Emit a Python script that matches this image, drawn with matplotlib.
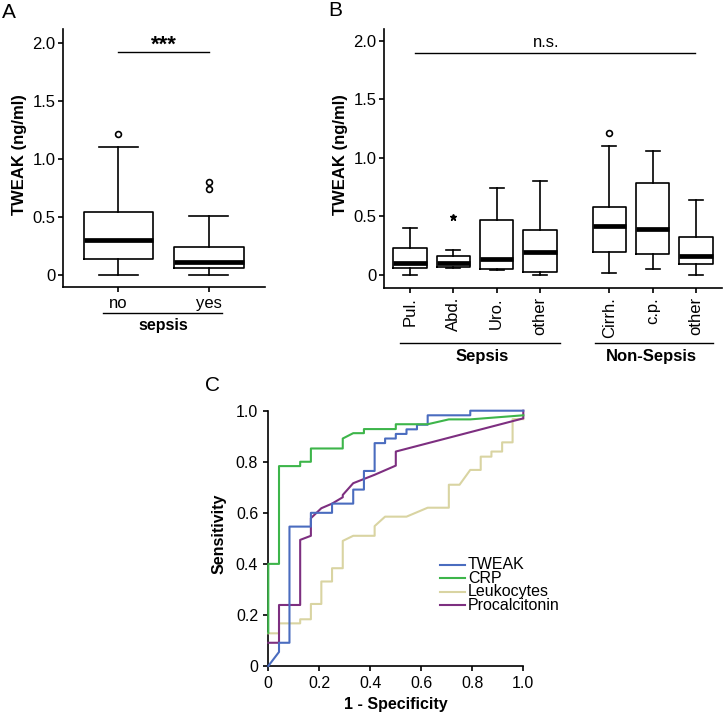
import matplotlib
matplotlib.use("Agg")
import matplotlib.pyplot as plt
from matplotlib.transforms import blended_transform_factory as btf

plt.rcParams['font.family'] = ['Liberation Sans', 'DejaVu Sans']

# ---------------- data ----------------
# Panel A
a_categories = ["no", "yes"]
a_whislo = [0.0, 0.0]
a_q1 = [0.141, 0.057]
a_med = [0.301, 0.109]
a_q3 = [0.545, 0.244]
a_whishi = [1.105, 0.508]
a_fliers = [[1.214], [0.74, 0.80]]
a_group_label = "sepsis"
a_sig = "***"

# Panel B
b_categories = ["Pul.", "Abd.", "Uro.", "other", "Cirrh.", "c.p.", "other"]
b_positions = [1, 2, 3, 4, 5.6, 6.6, 7.6]
b_whislo = [0.0, 0.063, 0.043, 0.0, 0.02, 0.048, 0.0]
b_q1 = [0.057, 0.071, 0.048, 0.026, 0.197, 0.18, 0.094]
b_med = [0.105, 0.105, 0.137, 0.194, 0.419, 0.39, 0.162]
b_q3 = [0.234, 0.165, 0.47, 0.385, 0.584, 0.783, 0.328]
b_whishi = [0.405, 0.214, 0.746, 0.806, 1.103, 1.06, 0.641]
b_fliers = [[], [0.499], [], [], [1.217], [], []]
b_groups = ["Sepsis", "Non-Sepsis"]
b_sig = "n.s."

# Panel C (ROC curves)
tweak_fpr = [0, 0.042, 0.042, 0.083, 0.083, 0.167, 0.167, 0.25, 0.25, 0.333, 0.333, 0.375, 0.375,
             0.417, 0.417, 0.458, 0.458, 0.5, 0.5, 0.542, 0.542, 0.583, 0.583, 0.625, 0.625,
             0.792, 0.792, 1.0]
tweak_tpr = [0, 0.055, 0.091, 0.091, 0.546, 0.546, 0.6, 0.6, 0.636, 0.636, 0.691, 0.691, 0.764,
             0.764, 0.873, 0.873, 0.891, 0.891, 0.909, 0.909, 0.927, 0.927, 0.945, 0.945, 0.982,
             0.982, 1.0, 1.0]
crp_fpr = [0, 0, 0.042, 0.042, 0.125, 0.125, 0.167, 0.167, 0.292, 0.292, 0.333, 0.375, 0.375,
           0.5, 0.5, 0.625, 0.708, 0.792, 1.0]
crp_tpr = [0.13, 0.4, 0.4, 0.783, 0.783, 0.8, 0.8, 0.852, 0.852, 0.891, 0.912, 0.912, 0.928,
           0.928, 0.947, 0.947, 0.966, 0.966, 0.982]
leuko_fpr = [0, 0.042, 0.042, 0.125, 0.125, 0.167, 0.167, 0.208, 0.208, 0.25, 0.25, 0.292, 0.292,
             0.333, 0.417, 0.417, 0.458, 0.542, 0.625, 0.708, 0.708, 0.75, 0.792, 0.833, 0.833,
             0.875, 0.875, 0.917, 0.917, 0.958, 0.958, 1.0]
leuko_tpr = [0.128, 0.128, 0.167, 0.167, 0.183, 0.183, 0.243, 0.243, 0.331, 0.331, 0.383, 0.383,
             0.49, 0.51, 0.51, 0.548, 0.585, 0.585, 0.62, 0.62, 0.71, 0.71, 0.768, 0.768, 0.82,
             0.82, 0.84, 0.84, 0.876, 0.876, 0.967, 0.967]
pct_fpr = [0, 0.042, 0.042, 0.125, 0.125, 0.167, 0.167, 0.208, 0.25, 0.292, 0.292, 0.333, 0.417,
           0.5, 0.5, 1.0, 1.0]
pct_tpr = [0.091, 0.091, 0.239, 0.239, 0.494, 0.51, 0.579, 0.618, 0.636, 0.661, 0.67, 0.716,
           0.749, 0.785, 0.84, 0.97, 1.0]
roc_labels = ["TWEAK", "CRP", "Leukocytes", "Procalcitonin"]

# ---------------- styles ----------------
roc_colors = ["#4a6cbf", "#3db54a", "#d9d4a2", "#7d2f80"]
W, H = 723, 713
fig = plt.figure(figsize=(W / 100, H / 100), dpi=100)


def ax_px(l, t, r, b):
    return fig.add_axes([l / W, 1 - b / H, (r - l) / W, (b - t) / H])


def style_axes(ax, lw=1.2):
    for s in ["top", "right"]:
        ax.spines[s].set_visible(False)
    for s in ["left", "bottom"]:
        ax.spines[s].set_linewidth(lw)
    ax.tick_params(direction="out", length=3.8, width=lw, colors="black")


def make_stats(whislo, q1, med, q3, whishi):
    return [dict(whislo=a, q1=b, med=c, q3=d, whishi=e, fliers=[])
            for a, b, c, d, e in zip(whislo, q1, med, q3, whishi)]


box_kw = dict(showfliers=False, patch_artist=False,
              boxprops=dict(color="black", linewidth=1.2),
              whiskerprops=dict(color="black", linewidth=1.2),
              capprops=dict(color="black", linewidth=1.2),
              medianprops=dict(color="black", linewidth=3.4, solid_capstyle="butt"))

# ---------------- Panel A ----------------
axA = ax_px(62.7, 29, 265, 287.3)
style_axes(axA)
posA = [1, 2]
axA.bxp(make_stats(a_whislo, a_q1, a_med, a_q3, a_whishi), positions=posA,
        widths=0.77, capwidths=0.43, **box_kw)
for p, fl in zip(posA, a_fliers):
    axA.plot([p] * len(fl), fl, linestyle="none", marker="o", markersize=4.2,
             markerfacecolor="white", markeredgecolor="black", markeredgewidth=1.2)
axA.set_xlim(0.385, 2.62)
axA.set_ylim(-0.106, 2.117)
axA.set_yticks([0, 0.5, 1.0, 1.5, 2.0])
axA.set_yticklabels(["0", "0.5", "1.0", "1.5", "2.0"])
axA.set_xticks(posA)
axA.set_xticklabels(a_categories)
axA.tick_params(labelsize=12)
axA.tick_params(axis="y", pad=1.5)
axA.tick_params(axis="x", pad=2.5)
axA.set_ylabel("TWEAK (ng/ml)", fontsize=12, fontweight="bold")
axA.yaxis.set_label_coords(-0.176, 0.515)
axA.plot([1, 2], [1.917, 1.917], color="black", linewidth=1.0)
axA.text(1.5, 1.975, a_sig, ha="center", va="center", fontsize=16, fontweight="bold")
trA = btf(axA.transData, axA.transAxes)
axA.plot([0.83, 2.15], [-0.1007, -0.1007], color="black", linewidth=1.0,
         transform=trA, clip_on=False)
axA.text(1.5, -0.146, a_group_label, transform=trA, ha="center", va="center",
         fontsize=11.5, fontweight="bold")

# ---------------- Panel B ----------------
axB = ax_px(384, 29.3, 722, 288.3)
style_axes(axB)
axB.bxp(make_stats(b_whislo, b_q1, b_med, b_q3, b_whishi), positions=b_positions,
        widths=0.77, capwidths=0.32, **box_kw)
flier_markers = ["o", "*", "o", "o", "o", "o", "o"]
for p, fl, mk in zip(b_positions, b_fliers, flier_markers):
    if not fl:
        continue
    if mk == "*":
        axB.plot([p] * len(fl), fl, linestyle="none", marker="*", markersize=5,
                 color="black")
    else:
        axB.plot([p] * len(fl), fl, linestyle="none", marker="o", markersize=4.2,
                 markerfacecolor="white", markeredgecolor="black", markeredgewidth=1.2)
axB.set_xlim(0.4, 8.2)
axB.set_ylim(-0.114, 2.1)
axB.set_yticks([0, 0.5, 1.0, 1.5, 2.0])
axB.set_yticklabels(["0", "0.5", "1.0", "1.5", "2.0"])
axB.set_xticks(b_positions)
axB.set_xticklabels(b_categories, rotation=90)
axB.tick_params(labelsize=12)
axB.tick_params(axis="y", pad=1.5)
axB.tick_params(axis="x", pad=2.5)
axB.set_ylabel("TWEAK (ng/ml)", fontsize=12, fontweight="bold")
axB.yaxis.set_label_coords(-0.1065, 0.515)
axB.plot([1.12, 7.57], [1.9, 1.9], color="black", linewidth=1.0)
axB.text(4.15, 1.925, b_sig, ha="center", va="bottom", fontsize=12)
trB = btf(axB.transData, axB.transAxes)
group_spans = [(0.77, 4.46), (5.26, 8.0)]
group_centers = [2.67, 6.57]
for (x0, x1), xc, lab in zip(group_spans, group_centers, b_groups):
    axB.plot([x0, x1], [-0.212, -0.212], color="black", linewidth=1.0,
             transform=trB, clip_on=False)
    axB.text(xc, -0.262, lab, transform=trB, ha="center", va="center",
             fontsize=12, fontweight="bold")

# ---------------- Panel C ----------------
axC = ax_px(268.3, 410.7, 523.3, 666)
style_axes(axC)
curves = [(tweak_fpr, tweak_tpr), (crp_fpr, crp_tpr), (leuko_fpr, leuko_tpr), (pct_fpr, pct_tpr)]
draw_order = [2, 3, 0, 1]
for i in draw_order:
    fx, ty = curves[i]
    axC.plot(fx, ty, color=roc_colors[i], linewidth=1.5, clip_on=False, zorder=3)
axC.set_xlim(0, 1)
axC.set_ylim(0, 1)
ticksC = [0, 0.2, 0.4, 0.6, 0.8, 1.0]
tlabC = ["0", "0.2", "0.4", "0.6", "0.8", "1.0"]
axC.set_xticks(ticksC)
axC.set_xticklabels(tlabC)
axC.set_yticks(ticksC)
axC.set_yticklabels(tlabC)
axC.tick_params(labelsize=11.5)
axC.set_xlabel("1 - Specificity", fontsize=11.5, fontweight="bold")
axC.xaxis.set_label_coords(0.5, -0.122)
axC.set_ylabel("Sensitivity", fontsize=11.5, fontweight="bold")
axC.yaxis.set_label_coords(-0.162, 0.519)
# legend
leg_rows = [0.396, 0.343, 0.29, 0.237]
for lab, col, yy in zip(roc_labels, roc_colors, leg_rows):
    axC.plot([0.673, 0.771], [yy, yy], color=col, linewidth=1.5, transform=axC.transAxes)
    axC.text(0.783, yy, lab, transform=axC.transAxes, ha="left", va="center", fontsize=11.5)

# panel letters
fig.text(2 / W, 1 - 3 / H, "A", ha="left", va="top", fontsize=15)
fig.text(328 / W, 1 - 1 / H, "B", ha="left", va="top", fontsize=15)
fig.text(205 / W, 1 - 376 / H, "C", ha="left", va="top", fontsize=15)

fig.savefig("out.png", dpi=100)
